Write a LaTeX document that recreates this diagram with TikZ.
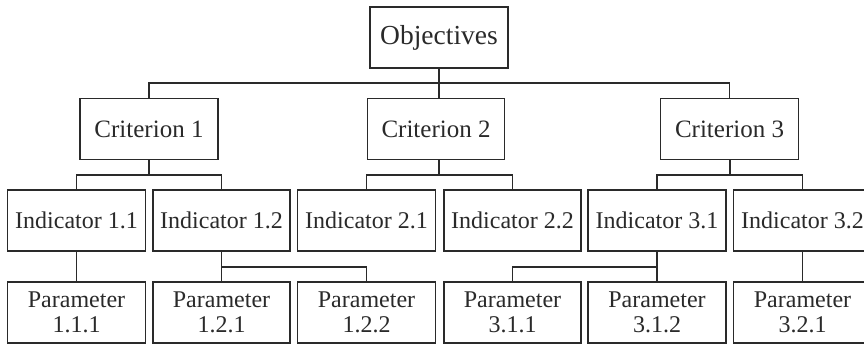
\documentclass[tikz,border=0pt]{standalone}
\usepackage{fontspec}
\setmainfont{Liberation Serif}
\definecolor{ink}{HTML}{2A2A2A}
\begin{document}
\begin{tikzpicture}[x=1pt,y=-1pt,
  box/.style={draw=ink, line width=1.8pt, text=ink, inner sep=0pt,
              minimum height=61pt, align=center},
  objbox/.style={box, minimum width=138pt, font=\fontsize{27.5}{30}\selectfont},
  critbox/.style={box, minimum width=138pt, font=\fontsize{25}{29}\selectfont},
  indbox/.style={box, minimum width=138pt, font=\fontsize{24}{28}\selectfont},
  parbox/.style={box, minimum width=138pt, font=\fontsize{24}{25}\selectfont},
  link/.style={draw=ink, line width=1.8pt}]
\clip (0,0) rectangle (864,344);
\fill[white] (0,0) rectangle (864,344);

% top level
\node[objbox] (obj) at (439,37.5) {Objectives};

% criteria
\node[critbox] (c1) at (149,129) {Criterion 1};
\node[critbox, minimum width=137pt] (c2) at (436,129) {Criterion 2};
\node[critbox] (c3) at (729.5,129) {Criterion 3};

% indicators
\node[indbox] (i11) at (76.5,220.5) {Indicator 1.1};
\node[indbox, minimum width=137pt] (i12) at (221.5,220.5) {Indicator 1.2};
\node[indbox] (i21) at (366.5,220.5) {Indicator 2.1};
\node[indbox, minimum width=137pt] (i22) at (512.5,220.5) {Indicator 2.2};
\node[indbox] (i31) at (657,220.5) {Indicator 3.1};
\node[indbox] (i32) at (802.5,220.5) {Indicator 3.2};

% parameters
\node[parbox] (p111) at (76.5,312.5) {\raisebox{-2pt}{Parameter}\\\raisebox{-2pt}{1.1.1}};
\node[parbox, minimum width=137pt] (p121) at (221.5,312.5) {\raisebox{-2pt}{Parameter}\\\raisebox{-2pt}{1.2.1}};
\node[parbox] (p122) at (366.5,312.5) {\raisebox{-2pt}{Parameter}\\\raisebox{-2pt}{1.2.2}};
\node[parbox, minimum width=137pt] (p311) at (512.5,312.5) {\raisebox{-2pt}{Parameter}\\\raisebox{-2pt}{3.1.1}};
\node[parbox] (p312) at (657,312.5) {\raisebox{-2pt}{Parameter}\\\raisebox{-2pt}{3.1.2}};
\node[parbox] (p321) at (802.5,312.5) {\raisebox{-2pt}{Parameter}\\\raisebox{-2pt}{3.2.1}};

% junction points of the bus lines
\coordinate (b0) at (439,83);
\coordinate (j1) at (149,175);
\coordinate (j2) at (439,175);
\coordinate (j3) at (730,175);
\coordinate (j4) at (221.5,267);
\coordinate (j5) at (657,267);

% objectives to criteria
\draw[link] (obj.south) -- (obj.south |- c2.north);
\draw[link] (c1.north) |- (b0) -| (c3.north);

% criteria to indicators
\draw[link] (c1.south) -- (j1);
\draw[link] (i11.north) |- (j1) -| (i12.north);
\draw[link] (obj.south |- c2.south) -- (j2);
\draw[link] (i21.north) |- (j2) -| (i22.north);
\draw[link] (c3.south -| j3) -- (j3);
\draw[link] (i31.north) |- (j3) -| (i32.north);

% indicators to parameters
\draw[link] (i11.south) -- (p111.north);
\draw[link] (i12.south) -- (p121.north);
\draw[link] (j4) -| (p122.north);
\draw[link] (i31.south) -- (p312.north);
\draw[link] (j5) -| (p311.north);
\draw[link] (i32.south) -- (p321.north);
\end{tikzpicture}
\end{document}
